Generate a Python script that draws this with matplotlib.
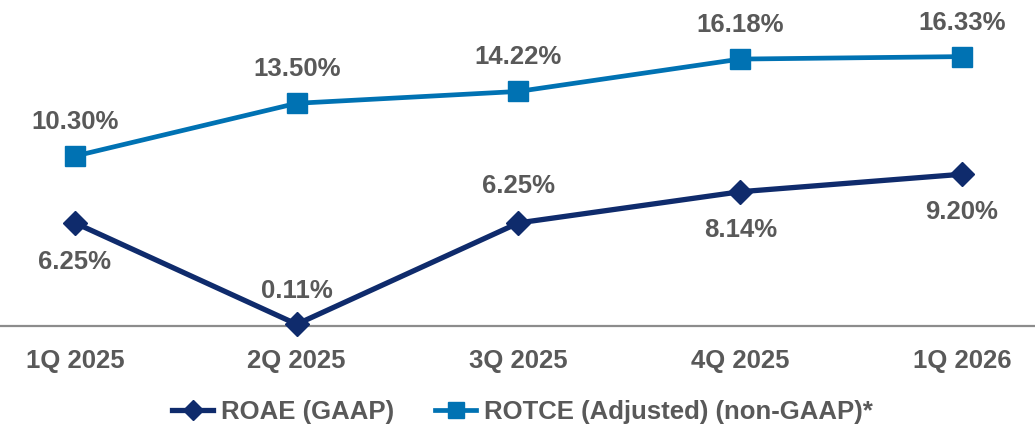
import matplotlib.pyplot as plt
from matplotlib.lines import Line2D

plt.rcParams['font.family'] = ['Liberation Sans', 'DejaVu Sans']

# datos
quarters = ["1Q 2025", "2Q 2025", "3Q 2025", "4Q 2025", "1Q 2026"]
roae = [6.25, 0.11, 6.25, 8.14, 9.20]
rotce = [10.30, 13.50, 14.22, 16.18, 16.33]
roae_labels = ["6.25%", "0.11%", "6.25%", "8.14%", "9.20%"]
rotce_labels = ["10.30%", "13.50%", "14.22%", "16.18%", "16.33%"]

navy = "#0F2B6C"
blue = "#0072B3"
gray_txt = "#595959"

fig = plt.figure(figsize=(10.35, 4.29), dpi=100)
ax = fig.add_axes([0, 0, 1, 1])
x = list(range(len(quarters)))

ax.axhline(0, color="#8C8C8C", linewidth=1.6, zorder=1)
ax.plot(x, rotce, color=blue, linewidth=3.4, marker="s", markersize=15, zorder=3)
ax.plot(x, roae, color=navy, linewidth=3.8, marker="D", markersize=12, zorder=3)

# etiquetas de datos
for i, (v, lab) in enumerate(zip(rotce, rotce_labels)):
    ax.annotate(lab, (i, v), xytext=(0, 24.5), textcoords="offset points",
                ha="center", va="center", fontsize=18.5, fontweight="bold", color=gray_txt)

roae_off = [-28, 24, 26.5, -27.5, -27.5]
for i, (v, lab) in enumerate(zip(roae, roae_labels)):
    ax.annotate(lab, (i, v), xytext=(0, roae_off[i]), textcoords="offset points",
                ha="center", va="center", fontsize=18.5, fontweight="bold", color=gray_txt)

# eje x
for i, q in enumerate(quarters):
    ax.annotate(q, (i, 0), xytext=(0, -25), textcoords="offset points",
                ha="center", va="center", fontsize=18.5, fontweight="bold", color=gray_txt)

ax.set_xlim(-0.338, 4.329)
ax.set_ylim(-6.24, 19.76)
ax.axis("off")

handles = [
    Line2D([], [], color=navy, linewidth=3.8, marker="D", markersize=10),
    Line2D([], [], color=blue, linewidth=3.4, marker="s", markersize=11.5),
]
fig.legend(handles, ["ROAE (GAAP)", "ROTCE (Adjusted) (non-GAAP)*"],
           loc="center", bbox_to_anchor=(0.505, 0.04), ncol=2, frameon=False,
           handlelength=1.6, handletextpad=0.3, columnspacing=1.6,
           prop={"size": 18.5, "weight": "bold"}, labelcolor=gray_txt)

plt.savefig("out.png", dpi=100)
